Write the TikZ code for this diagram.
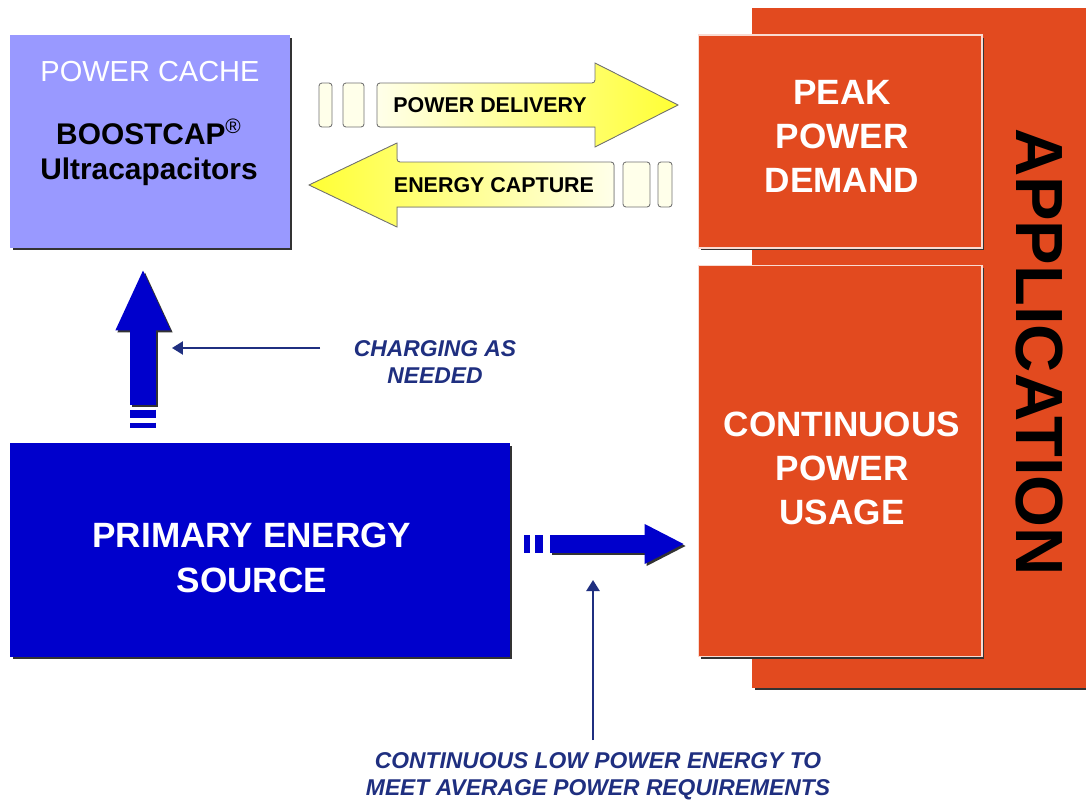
\documentclass[tikz,border=0pt]{standalone}
\usepackage{fontspec}
\setmainfont{Liberation Sans}
\usetikzlibrary{
    shadows,
    positioning,
    calc,
    arrows.meta,
}
\definecolor{cachepurple}{HTML}{9999FF}
\definecolor{sourceblue}{HTML}{0000CC}
\definecolor{apporange}{HTML}{E24A1F}
\definecolor{labelnavy}{HTML}{1F2F80}
\definecolor{arrowyellow}{HTML}{FFFF33}
\definecolor{cream}{HTML}{FFFFEA}
\tikzstyle{box} = [rectangle, inner sep=0pt, align=center,
    drop shadow={shadow xshift=0.05cm, shadow yshift=-0.05cm, fill=black!80, opacity=1}]
\tikzstyle{part} = [box, fill=apporange, draw=white!80!apporange, line width=0.6pt]
\tikzstyle{parttext} = [text=white, align=center, font=\bfseries\fontsize{20}{25}\selectfont]
\tikzstyle{note} = [text=labelnavy, align=center,
    font=\bfseries\itshape\fontsize{13}{15.6}\selectfont]
\tikzstyle{fatblue} = [draw=sourceblue]
\tikzstyle{thin} = [draw=labelnavy, line width=1.3pt, -{Triangle[width=0.26cm, length=0.22cm]}]
\tikzstyle{tab} = [draw=black!55, fill=cream, line width=0.5pt, rounded corners=0.06cm]
\tikzstyle{yarrow} = [draw=black!55, line width=0.5pt]

\begin{document}
\begin{tikzpicture}[x=0.02cm, y=-0.02cm]
        \useasboundingbox (0,0) rectangle (1086,801);
        \fill[white] (0,0) rectangle (1086,801);
        % Place nodes
        \node [box, fill=apporange, minimum width=6.68cm, minimum height=13.6cm] (app) at (919,348) {};
        \node [rotate=-90, font=\bfseries\fontsize{38}{40}\selectfont] (applabel) at (1039,352) {APPLICATION};
        \node [part, minimum width=5.68cm, minimum height=4.26cm] (peak) at (840,141.5) {};
        \node [parttext] (peaktext) at ($(peak)+(2,-5)$) {PEAK\\POWER\\DEMAND};
        \node [part, minimum width=5.68cm, minimum height=7.84cm] (cont) at (840,461) {};
        \node [parttext] (conttext) at ($(cont)+(2,7.5)$) {CONTINUOUS\\POWER\\USAGE};
        \node [box, fill=cachepurple, minimum width=5.6cm, minimum height=4.26cm] (cache) at (150,141.5) {};
        \node [text=white, font=\fontsize{16.5}{20}\selectfont] (cachetitle) at (150,72) {POWER CACHE};
        \node [align=center, font=\bfseries\fontsize{17}{20}\selectfont] (cachename) at (149,152.5)
            {BOOSTCAP\textsuperscript{\mdseries ®}\\Ultracapacitors};
        \node [box, fill=sourceblue, minimum width=10cm, minimum height=4.28cm] (primary) at (260,550) {};
        \node [parttext, font=\bfseries\fontsize{20}{25.6}\selectfont] (primarytext) at ($(primary)+(-8,7.5)$)
            {PRIMARY ENERGY\\SOURCE};
        \node [note] (charge) at (435,362) {CHARGING AS\\NEEDED};
        \node [note] (lowpow) at (598,776.5) {CONTINUOUS LOW POWER ENERGY TO\\MEET AVERAGE POWER REQUIREMENTS};
        \coordinate (chgtail) at (320,348);
        \coordinate (chgtip) at (172,348);
        \coordinate (lowtail) at (593,740);
        \coordinate (lowtip) at (593,580);
        % Yellow arrows
        \path [tab] (319,83) rectangle (332,127);
        \path [tab] (343,83) rectangle (364,127);
        \filldraw [yarrow, left color=cream, right color=arrowyellow]
            (595,83) -- (595,63) -- (678,105) -- (595,147) -- (595,127)
            [rounded corners=0.06cm] -- (377,127) -- (377,83) -- cycle;
        \node [font=\bfseries\fontsize{12.2}{14}\selectfont] (deliver) at (490,105) {POWER DELIVERY};
        \path [tab] (623,162) rectangle (650,207);
        \path [tab] (658,162) rectangle (672,207);
        \filldraw [yarrow, left color=arrowyellow, right color=cream]
            (397,162) -- (397,143) -- (309,185) -- (397,227) -- (397,207)
            [rounded corners=0.06cm] -- (614,207) -- (614,162) -- cycle;
        \node [font=\bfseries\fontsize{12.2}{14}\selectfont] (capture) at (494,185) {ENERGY CAPTURE};
        % Draw edges
        \draw [black!80, line width=0.54cm, -{Triangle[width=1.0cm, length=1.24cm]}]
            ($(primary.north -| cache.south)+(-5,-36)$) -- ($(cache.south)+(-5,22)$);
        \draw [fatblue, line width=0.54cm, -{Triangle[width=1.0cm, length=1.24cm]}]
            ($(primary.north -| cache.south)+(-7,-38)$) -- ($(cache.south)+(-7,20)$);
        \draw [fatblue, line width=0.54cm] ($(primary.north -| cache.south)+(-7,-33)$) -- ++(0,8);
        \draw [fatblue, line width=0.54cm] ($(primary.north -| cache.south)+(-7,-20)$) -- ++(0,5);
        \draw [black!80, line width=0.36cm, -{Triangle[width=0.74cm, length=0.8cm]}]
            ($(primary.east)+(42,-4)$) -- ($(primary.east -| cont.west)+(-11,-4)$);
        \draw [fatblue, line width=0.36cm, -{Triangle[width=0.74cm, length=0.8cm]}]
            ($(primary.east)+(40,-6)$) -- ($(primary.east -| cont.west)+(-13,-6)$);
        \draw [fatblue, line width=0.36cm] ($(primary.east)+(14,-6)$) -- ++(6,0);
        \draw [fatblue, line width=0.36cm] ($(primary.east)+(25,-6)$) -- ++(8,0);
        \path [thin] (chgtail) -- (chgtip);
        \path [thin] (lowtail) -- (lowtip);
    \end{tikzpicture}
\end{document}
